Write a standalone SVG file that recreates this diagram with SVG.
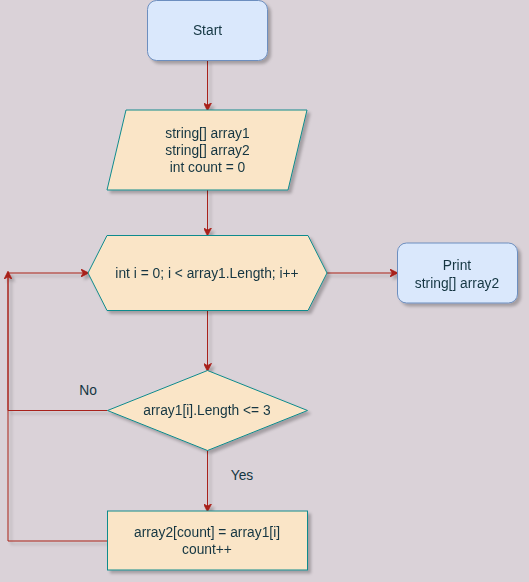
<svg xmlns="http://www.w3.org/2000/svg" width="529" height="582" viewBox="0 0 529 582">
<style>
text{font-family:"Liberation Sans",Arial,sans-serif;font-size:13.8px;fill:#143642;text-anchor:middle;dominant-baseline:central}
.blue{fill:#dae8fc;stroke:#6c8ebf;stroke-width:1}
.org{fill:#fae5c7;stroke:#0f8b8d;stroke-width:1}
.edge{fill:none;stroke:#a8201a;stroke-width:1}
</style>
<defs>
<filter id="sh" x="-20%" y="-20%" width="140%" height="140%">
<feGaussianBlur in="SourceAlpha" stdDeviation="1.7"/>
<feOffset dx="3" dy="3" result="b"/>
<feFlood flood-color="#000" flood-opacity="0.25"/>
<feComposite in2="b" operator="in"/>
<feMerge><feMergeNode/><feMergeNode in="SourceGraphic"/></feMerge>
</filter>
<marker id="arr" viewBox="0 0 10 10" refX="9" refY="5" markerWidth="8" markerHeight="8" markerUnits="userSpaceOnUse" orient="auto">
<path d="M0,0 L10,5 L0,10 L3,5 Z" fill="#a8201a" stroke="#a8201a"/>
</marker>
</defs>
<rect width="529" height="582" fill="#dad2d8"/>
<g id="connectors" filter="url(#sh)">
<path class="edge" d="M207.5,60 V110" marker-end="url(#arr)"/>
<path class="edge" d="M207.5,190 V235" marker-end="url(#arr)"/>
<path class="edge" d="M327,273 H397" marker-end="url(#arr)"/>
<path class="edge" d="M207.5,310 V370.5" marker-end="url(#arr)"/>
<path class="edge" d="M207.5,450.5 V511" marker-end="url(#arr)"/>
<path class="edge" d="M107.5,410.5 H8 V272" marker-end="url(#arr)"/>
<path class="edge" d="M107.5,541 H8 V273 H88" marker-end="url(#arr)"/>
</g>
<g id="start" filter="url(#sh)">
<rect class="blue" x="147.5" y="0.5" width="120" height="60" rx="9"/>
<text x="207.5" y="30">Start</text>
</g>
<g id="input" filter="url(#sh)">
<polygon class="org" points="126,110 307,110 288,190 107,190"/>
<text x="207.5" y="133">string[] array1</text>
<text x="207.5" y="150">string[] array2</text>
<text x="207.5" y="167">int count = 0</text>
</g>
<g id="loop" filter="url(#sh)">
<polygon class="org" points="88,273 107,235.5 308,235.5 327,273 308,310.5 107,310.5"/>
<text x="207" y="273">int i = 0; i &lt; array1.Length; i++</text>
</g>
<g id="print" filter="url(#sh)">
<rect class="blue" x="397.5" y="243" width="120" height="60" rx="9"/>
<text x="457" y="265">Print</text>
<text x="457" y="283">string[] array2</text>
</g>
<g id="cond" filter="url(#sh)">
<polygon class="org" points="107.5,410.5 207.5,370.5 307.5,410.5 207.5,450.5"/>
<text x="207" y="410.5">array1[i].Length &lt;= 3</text>
</g>
<g id="assign" filter="url(#sh)">
<rect class="org" x="107.5" y="511" width="200" height="59"/>
<text x="207" y="532">array2[count] = array1[i]</text>
<text x="207" y="549">count++</text>
</g>
<g id="labels">
<text x="88" y="390">No</text>
<text x="242" y="475">Yes</text>
</g>
</svg>
